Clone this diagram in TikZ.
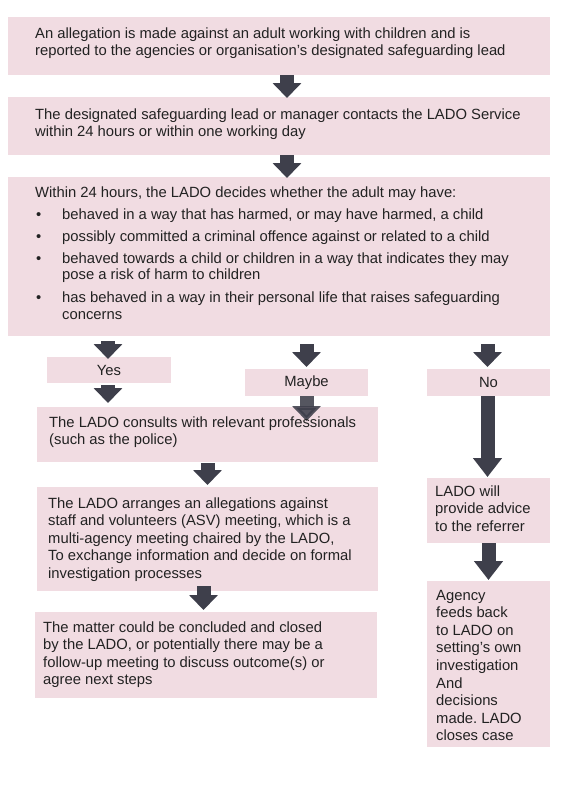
\documentclass[tikz,border=0pt]{standalone}
\usepackage{fontspec}
\setmainfont{Liberation Sans}
\usetikzlibrary{arrows.meta,calc}
\definecolor{boxpink}{HTML}{F1DCE2}
\definecolor{arrowgray}{HTML}{3E3F4B}
\definecolor{txtc}{HTML}{222222}
\frenchspacing
\begin{document}
\begin{tikzpicture}[x=1pt,y=-1pt,
  box/.style={fill=boxpink, draw=none, anchor=north west, inner sep=0pt, outer sep=0pt},
  lbl/.style={font=\fontsize{14.8}{17.6}\selectfont\frenchspacing, text=txtc, inner sep=0pt},
  txt/.style={lbl, anchor=base west},
  blk/.style={draw=arrowgray, line width=14pt, -{Triangle[width=28pt,length=15pt]}},
  blklong/.style={blk, -{Triangle[width=28pt,length=19pt]}},
]
\fill[white] (0,0) rectangle (566,800);
\useasboundingbox (0,0) rectangle (566,800);

% boxes
\node[box, minimum width=542pt, minimum height=58pt] (b1) at (8,17) {};
\node[box, minimum width=542pt, minimum height=58pt] (b2) at (8,97) {};
\node[box, minimum width=542pt, minimum height=159pt] (b3) at (8,177) {};
\node[box, lbl, anchor=north west, minimum width=124pt, minimum height=26pt] (yes) at (47,357) {Yes};
\node[box, lbl, anchor=north west, minimum width=123pt, minimum height=27pt] (maybe) at (245,369) {Maybe};
\node[box, lbl, anchor=north west, minimum width=123pt, minimum height=27pt] (no) at (427,369) {No};
\node[box, minimum width=341pt, minimum height=55pt] (bC) at (37,407) {};
\node[box, minimum width=341pt, minimum height=104pt] (bA) at (37,487) {};
\node[box, minimum width=342pt, minimum height=86pt] (bM) at (35,612) {};
\node[box, minimum width=123pt, minimum height=65pt] (bL) at (427,478) {};
\node[box, minimum width=123pt, minimum height=166pt] (bG) at (427,581) {};

% arrows
\draw[blk] ($(b1.south)+(8,0)$) -- ($(b2.north)+(8,1)$);
\draw[blk] ($(b2.south)+(8,0)$) -- ($(b3.north)+(8,1)$);
\draw[blk] ($(b3.south -| yes.north)+(-1,5)$) -- ($(yes.north)+(-1,2)$);
\draw[blk] ($(b3.south -| maybe.north)+(0,8)$) -- ($(maybe.north)+(0,-2)$);
\draw[blk] ($(b3.south -| no.north)+(-1,8)$) -- ($(no.north)+(-1,-2)$);
\draw[blk] ($(yes.south)+(-1,2)$) -- ($(bC.north -| yes.south)+(-1,-4)$);
\draw[blk, opacity=0.88] (maybe.south) -- ($(bC.north -| maybe.south)+(0,14)$);
\draw[blklong] ($(no.south)+(-1,0)$) -- ($(bL.north)+(-1,-1)$);
\draw[blk] ($(bC.south)+(0,1)$) -- ($(bA.north)+(0,-2)$);
\draw[blk] ($(bA.south)+(-4,-5)$) -- ($(bM.north -| bA.south)+(-4,-2)$);
\draw[blklong] (bL.south) -- ($(bG.north)+(0,-1)$);

% texts
\node[txt] (t1) at ($(b1.north west)+(27,21)$) {\parbox[t]{520pt}{An allegation is made against an adult working with children and is\\reported to the agencies or organisation’s designated safeguarding lead}};
\node[txt] (t2) at ($(b2.north west)+(27,22)$) {\parbox[t]{520pt}{The designated safeguarding lead or manager contacts the LADO Service\\within 24 hours or within one working day}};
\node[txt] (t3) at ($(b3.north west)+(27,20)$) {\parbox[t]{520pt}{Within 24 hours, the LADO decides whether the adult may have:\\[4.4pt]
\makebox[27pt][l]{\hspace{1pt}•}behaved in a way that has harmed, or may have harmed, a child\\[4.4pt]
\makebox[27pt][l]{\hspace{1pt}•}possibly committed a criminal offence against or related to a child\\[4.4pt]
\makebox[27pt][l]{\hspace{1pt}•}behaved towards a child or children in a way that indicates they may\\[-1pt]
\hspace*{27pt}pose a risk of harm to children\\[5pt]
\makebox[27pt][l]{\hspace{1pt}•}has behaved in a way in their personal life that raises safeguarding\\
\hspace*{27pt}concerns}};
\node[txt] (tC) at ($(bC.north west)+(12,20)$) {\parbox[t]{325pt}{The LADO consults with relevant professionals\\(such as the police)}};
\node[txt] (tA) at ($(bA.north west)+(11,21)$) {\parbox[t]{325pt}{The LADO arranges an allegations against\\staff and volunteers (ASV) meeting, which is a\\multi-agency meeting chaired by the LADO,\\To exchange information and decide on formal\\investigation processes}};
\node[txt] (tM) at ($(bM.north west)+(8,20)$) {\parbox[t]{325pt}{The matter could be concluded and closed\\by the LADO, or potentially there may be a\\follow-up meeting to discuss outcome(s) or\\agree next steps}};
\node[txt] (tL) at ($(bL.north west)+(8,18)$) {\parbox[t]{120pt}{LADO will\\provide advice\\to the referrer}};
\node[txt] (tG) at ($(bG.north west)+(9,19)$) {\parbox[t]{120pt}{Agency\\feeds back\\to LADO on\\setting’s own\\investigation\\And\\decisions\\made. LADO\\closes case}};
\end{tikzpicture}
\end{document}
